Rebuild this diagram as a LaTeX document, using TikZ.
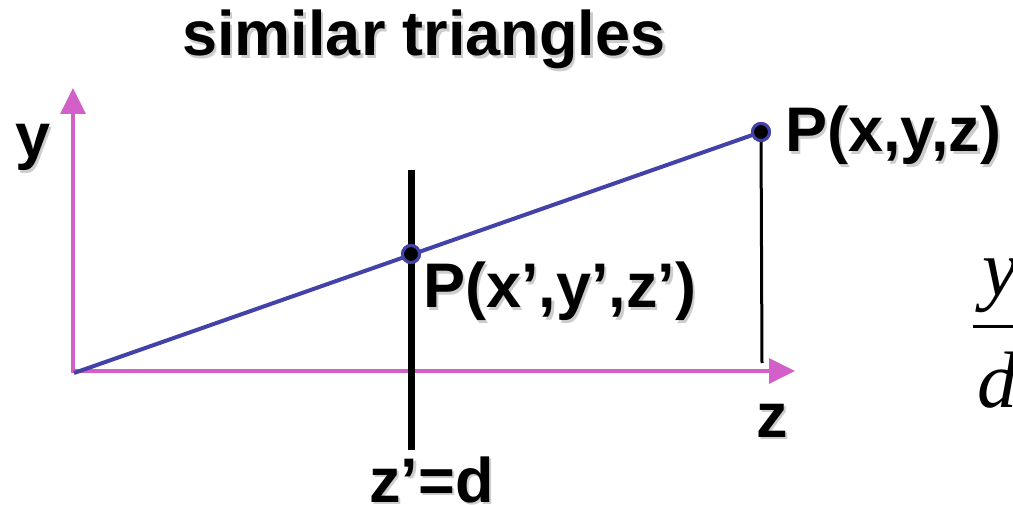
\documentclass[tikz,border=0pt]{standalone}
\usepackage{fontspec}
\setmainfont{Liberation Sans}
\newfontfamily\fracfont{Liberation Serif}
\usetikzlibrary{arrows.meta}
\definecolor{axmag}{RGB}{210,96,200}
\definecolor{rayblue}{RGB}{66,66,168}
\definecolor{shadowgray}{RGB}{205,205,205}
\newcommand\shd[1]{\rlap{\kern2.5pt\raisebox{-2.5pt}{\color{shadowgray}#1}}#1}
\tikzset{
  lbl/.style={inner sep=0pt, anchor=base west, font=\fontsize{63}{63}\selectfont\bfseries},
  axis/.style={draw=axmag, line width=3.5pt, -{Triangle[length=26pt,width=25pt]}},
  ray/.style={draw=rayblue, line width=4pt},
  plane/.style={draw=black, line width=7.5pt},
  drop/.style={draw=black, line width=3pt},
  pt/.style={circle, draw=rayblue, fill=black, line width=3pt, minimum size=17pt, inner sep=0pt},
  fr/.style={inner sep=0pt, anchor=base west, font=\fontsize{80}{80}\selectfont\fracfont\itshape}
}
\begin{document}
\begin{tikzpicture}[x=1pt,y=-1pt]
\useasboundingbox (0,0) rectangle (1013,505);
\clip (0,0) rectangle (1013,505);
% axes
\coordinate (O) at (73,371);
\coordinate (ytip) at (73,88);
\coordinate (ztip) at (795,371);
\draw[axis] (O) -- (ytip);
\draw[axis] (O) -- (ztip);
\fill[axmag] (71.25,369.25) rectangle (74.75,372.75);
% image plane
\coordinate (planetop) at (411.5,170);
\coordinate (planebot) at (411.5,450);
\draw[plane] (planetop) -- (planebot);
% points
\node[pt] (P) at (761,132) {};
\node[pt] (Pp) at (411,254) {};
\coordinate (Pfoot) at (762,363);
\coordinate (ray0) at (74,373);
\draw[drop] (P.center) -- (Pfoot);
\draw[ray] (ray0) -- (P.center);
\node[pt] at (P) {};
\node[pt] at (Pp) {};
% labels
\node[lbl, anchor=base] (title) at (424,56) {\shd{similar triangles}};
\node[lbl] (ylab) at (15,158) {\shd{y}};
\node[lbl] (Plab) at (785,152) {\shd{P(x,y,z)}};
\node[lbl] (Pplab) at (423,308) {\shd{P(x’,y’,z’)}};
\node[lbl] (zlab) at (756,437) {\shd{z}};
\node[lbl] (dlab) at (369,502) {\shd{z’=d}};
% fraction
\node[fr] (num) at (982,295.5) {y};
\node[fr] (den) at (977,407) {d};
\coordinate (barL) at (973,327);
\coordinate (barR) at (1030,327);
\draw[line width=3pt] (barL) -- (barR);
\end{tikzpicture}
\end{document}
